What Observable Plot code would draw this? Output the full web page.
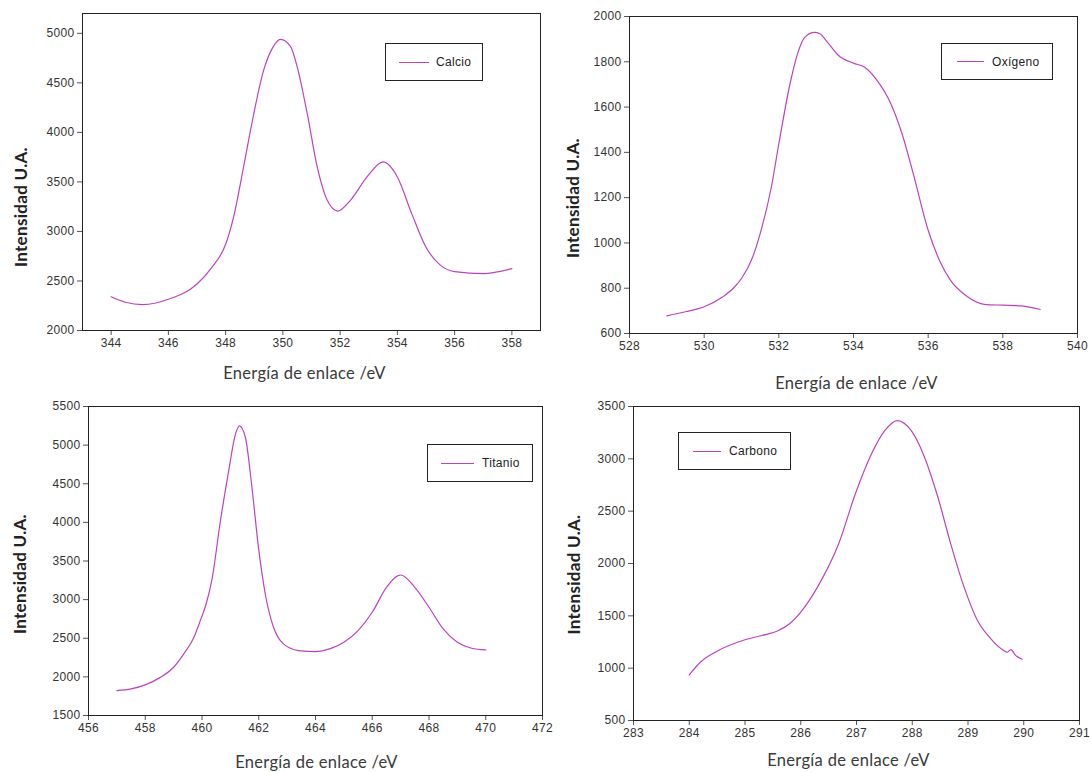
<!DOCTYPE html>
<html>
<head>
<meta charset="utf-8">
<script src="https://cdn.jsdelivr.net/npm/d3@7"></script>
<script src="https://cdn.jsdelivr.net/npm/@observablehq/plot@0.6"></script>
<style>
  body { margin: 0; background: #fff; }
  #wrap { position: relative; width: 1091px; height: 772px; overflow: hidden; background: #fff; }
  #wrap > svg { position: absolute; }
  .legend { position: absolute; border: 1px solid #222; box-sizing: border-box; background: #fff;
            display: flex; align-items: center; font-family: "Liberation Sans", Arial, sans-serif;
            font-size: 12px; color: #222; letter-spacing: 0.3px; }
  .legend .ln { height: 0; border-top: 1.3px solid #bb44bb; }
</style>
</head>
<body>
<div id="wrap"></div>
<script>
// ---------- data ----------
const calcioE = [344, 344.5, 345.1, 346, 347, 347.5, 348, 348.29, 348.6, 348.87, 349.33, 349.63, 349.92, 350.27, 350.5, 350.85, 351.2, 351.55, 351.92, 352.36, 352.94, 353.5, 354, 354.5, 355, 355.5, 356, 357, 358];
const calcioI = [2340, 2285, 2262, 2315, 2470, 2630, 2870, 3160, 3610, 4022, 4629, 4848, 4939, 4865, 4662, 4191, 3651, 3314, 3206, 3314, 3550, 3702, 3550, 3180, 2840, 2660, 2595, 2575, 2625];

const oxigenoE = [529, 529.5, 530, 530.5, 530.8, 531, 531.3, 531.5, 531.8, 532, 532.3, 532.5, 532.7, 532.95, 533.1, 533.3, 533.6, 534, 534.3, 534.6, 535, 535.3, 535.6, 536, 536.3, 536.6, 537, 537.5, 538, 538.5, 539];
const oxigenoI = [678, 696, 718, 762, 803, 843, 938, 1041, 1247, 1438, 1703, 1835, 1909, 1930, 1924, 1887, 1828, 1794, 1776, 1725, 1615, 1482, 1306, 1056, 924, 835, 769, 729, 725, 722, 706];

const titanioE = [457, 457.5, 458, 458.5, 459, 459.36, 459.7, 459.94, 460.15, 460.35, 460.65, 460.94, 461.18, 461.32, 461.53, 461.76, 461.99, 462.23, 462.52, 462.87, 463.4, 464, 464.5, 465, 465.5, 466, 466.5, 467, 467.5, 468, 468.5, 469, 469.5, 470];
const titanioI = [1823, 1845, 1897, 1987, 2125, 2298, 2500, 2728, 2950, 3260, 4022, 4668, 5143, 5250, 5099, 4452, 3676, 3073, 2642, 2427, 2341, 2328, 2362, 2448, 2599, 2836, 3159, 3319, 3159, 2901, 2621, 2448, 2371, 2349];

const carbonoE = [284, 284.2, 284.5, 285, 285.3, 285.6, 285.8, 286, 286.3, 286.68, 286.98, 287.27, 287.51, 287.73, 287.98, 288.22, 288.46, 288.69, 288.93, 289.17, 289.41, 289.64, 289.7, 289.77, 289.85, 289.97];
const carbonoI = [936, 1057, 1162, 1271, 1312, 1360, 1424, 1535, 1774, 2188, 2666, 3048, 3271, 3366, 3271, 3016, 2633, 2188, 1774, 1455, 1280, 1169, 1152, 1178, 1125, 1085];

const calcioXTicks = [344, 346, 348, 350, 352, 354, 356, 358];
const calcioYTicks = [2000, 2500, 3000, 3500, 4000, 4500, 5000];
const oxigenoXTicks = [528, 530, 532, 534, 536, 538, 540];
const oxigenoYTicks = [600, 800, 1000, 1200, 1400, 1600, 1800, 2000];
const titanioXTicks = [456, 458, 460, 462, 464, 466, 468, 470, 472];
const titanioYTicks = [1500, 2000, 2500, 3000, 3500, 4000, 4500, 5000, 5500];
const carbonoXTicks = [283, 284, 285, 286, 287, 288, 289, 290, 291];
const carbonoYTicks = [500, 1000, 1500, 2000, 2500, 3000, 3500];

const xTitle = "Energía de enlace /eV";
const yTitle = "Intensidad U.A.";
const lineColor = "#bb44bb";

// ---------- panels ----------
const panels = [
  { name: "Calcio", E: calcioE, I: calcioI, xd: [343, 359], yd: [2000, 5200], xt: calcioXTicks, yt: calcioYTicks,
    left: 0, top: 0, w: 545, h: 390, m: [13, 5, 60, 82], xdx: -7, xdy: 43, ydx: -61, ydy: 35,
    lg: { l: 385, t: 43, w: 98, h: 38, pad: 13, lw: 30, gap: 7 } },
  { name: "Oxígeno", E: oxigenoE, I: oxigenoI, xd: [528, 540], yd: [600, 2000], xt: oxigenoXTicks, yt: oxigenoYTicks,
    left: 545, top: 0, w: 546, h: 390, m: [16, 14, 57, 84], xdx: 3, xdy: 50, ydx: -56, ydy: 23,
    lg: { l: 941, t: 43, w: 112, h: 37, pad: 15, lw: 27, gap: 8 } },
  { name: "Titanio", E: titanioE, I: titanioI, xd: [456, 472], yd: [1500, 5500], xt: titanioXTicks, yt: titanioYTicks,
    left: 0, top: 390, w: 545, h: 382, m: [16, 3, 57, 88], xdx: 1, xdy: 47, ydx: -68, ydy: 13,
    lg: { l: 427, t: 444, w: 106, h: 38, pad: 13, lw: 33, gap: 8 } },
  { name: "Carbono", E: carbonoE, I: carbonoI, xd: [283, 291], yd: [500, 3500], xt: carbonoXTicks, yt: carbonoYTicks,
    left: 545, top: 390, w: 546, h: 382, m: [16, 12, 52, 88], xdx: -8, xdy: 40, ydx: -59, ydy: 11,
    lg: { l: 678, t: 432, w: 113, h: 38, pad: 14, lw: 28, gap: 8 } }
];

const wrap = document.getElementById("wrap");
const fmt = d => String(d);

for (const p of panels) {
  const rows = p.E.map((e, i) => ({ e, v: p.I[i] }));
  const chart = Plot.plot({
    width: p.w, height: p.h,
    marginTop: p.m[0], marginRight: p.m[1], marginBottom: p.m[2], marginLeft: p.m[3],
    style: { fontFamily: "'Liberation Sans', Arial, sans-serif", fontSize: "12px", color: "#333", background: "transparent", overflow: "visible", letterSpacing: "0.3px" },
    x: { domain: p.xd },
    y: { domain: p.yd },
    marks: [
      Plot.axisX({ ticks: p.xt, tickFormat: fmt, label: null, tickSize: 5, tickPadding: 3, stroke: "#555", fill: "#333" }),
      Plot.axisY({ ticks: p.yt, tickFormat: fmt, label: null, tickSize: 5, tickPadding: 3, stroke: "#555", fill: "#333" }),
      Plot.frame({ stroke: "#222", strokeWidth: 1 }),
      Plot.line(rows, { x: "e", y: "v", stroke: lineColor, strokeWidth: 1.2, curve: "monotone-x" }),
      Plot.text([xTitle], { text: d => d, frameAnchor: "bottom", dx: p.xdx, dy: p.xdy, lineAnchor: "middle",
        fontSize: 16.5, fontWeight: 400, fontFamily: "Lato, 'Open Sans', sans-serif", fill: "#3a3a3a" }),
      Plot.text([yTitle], { text: d => d, frameAnchor: "left", dx: p.ydx, dy: p.ydy, rotate: -90, lineAnchor: "middle",
        textAnchor: "middle", fontSize: 17, fontWeight: "bold", fontFamily: "Lato, 'Open Sans', sans-serif", fill: "#222" })
    ]
  });
  chart.style.left = p.left + "px";
  chart.style.top = p.top + "px";
  wrap.appendChild(chart);

  const lg = document.createElement("div");
  lg.className = "legend";
  lg.style.left = p.lg.l + "px";
  lg.style.top = p.lg.t + "px";
  lg.style.width = p.lg.w + "px";
  lg.style.height = p.lg.h + "px";
  lg.style.paddingLeft = p.lg.pad + "px";
  const ln = document.createElement("span");
  ln.className = "ln";
  ln.style.width = p.lg.lw + "px";
  ln.style.marginRight = p.lg.gap + "px";
  const tx = document.createElement("span");
  tx.textContent = p.name;
  lg.appendChild(ln);
  lg.appendChild(tx);
  wrap.appendChild(lg);
}
</script>
</body>
</html>
